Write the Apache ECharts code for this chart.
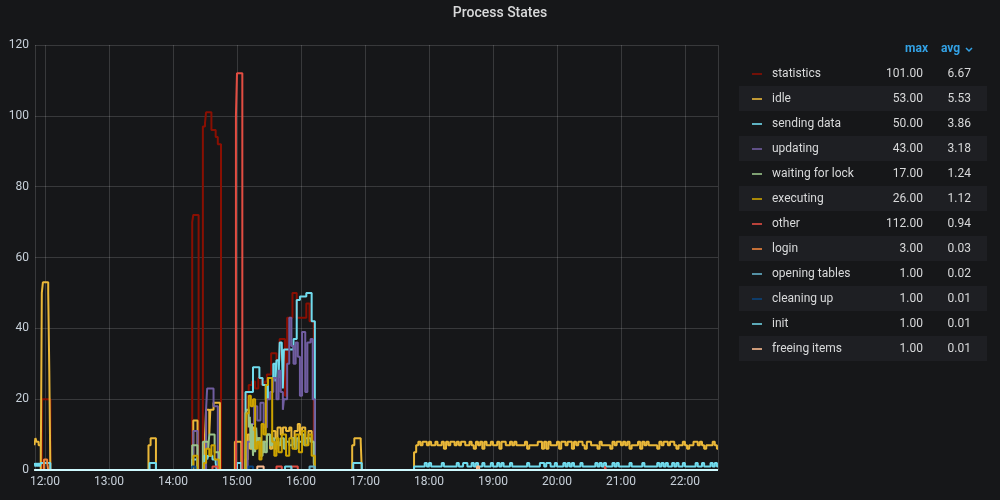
<!DOCTYPE html>
<html>
<head>
<meta charset="utf-8">
<script src="https://cdn.jsdelivr.net/npm/echarts@6/dist/echarts.min.js"></script>
<style>
  html, body { margin: 0; padding: 0; background: #161719; }
  #chart { width: 1000px; height: 500px; }
</style>
</head>
<body>
<div id="chart"></div>
<script>
// ---- Data (minutes from 12:00, value) : change points of step lines ----
const seriesNames = ['statistics','idle','sending data','updating','waiting for lock','executing','other','login','opening tables','cleaning up','init','freeing items'];
const seriesColors = ['#890F02','#EAB839','#70DBED','#705DA0','#9AC48A','#CCA300','#E24D42','#EF843C','#64B0C8','#0A437C','#6ED0E0','#F9BA8F'];
const legendMax = ['101.00','53.00','50.00','43.00','17.00','26.00','112.00','3.00','1.00','1.00','1.00','1.00'];
const legendAvg = ['6.67','5.53','3.86','3.18','1.24','1.12','0.94','0.03','0.02','0.01','0.01','0.01'];
const yTicks = [0, 20, 40, 60, 80, 100, 120];

const statisticsPts = [[-10,0],[-3,20],[5,0],[138,70],[139,72],[144,0],[148,97],[150,98],[151,101],[156,96],[160,94],[162,92],[165,0],
  [189,22],[191,24],[194,25],[197,23],[200,26],[203,24],[206,25],[208,27],[212,33],[217,31],[220,37],[225,21],[227,43],[232,50],[236,43],[245,47],[248,42],[252,0],[631,0]];

const idlePts = [[-10,7],[-9,9],[-8,8],[-6,7],[-4,0],[-3,50],[-2,53],[3,50],[4,28],[5,0],[97,7],[99,9],[104,0],
  [139,14],[143,0],[150,10],[151,17],[154,10],[155,17],[158,19],[164,0],[178,8],[184,0],
  [188,3],[190,10],[192,6],[194,12],[196,7],[199,9],[202,5],[205,8],[208,10],[211,6],[213,11],[216,9],[218,12],[221,10],[223,12],
  [226,11],[229,12],[231,9],[234,11],[237,13],[239,10],[241,12],[244,9],[247,11],[250,8],[253,0],[288,7],[290,9],[296,8],[297,0]];
// idle from 17:46 every 2 minutes
const idleTail = [
  5,7,8,7,8,8,7,8,7,7,
  8,7,7,8,6,8,7,8,8,7,
  8,7,8,8,7,7,8,7,6,8,
  7,8,6,8,7,7,8,7,7,8,
  6,8,8,7,7,8,7,8,7,7,
  7,7,8,6,7,7,7,7,8,8,
  6,8,6,8,7,7,7,8,6,8,
  8,7,8,8,6,8,7,8,8,7,
  6,8,8,7,7,7,6,8,7,7,
  7,7,6,8,7,8,8,7,8,7,
  8,6,7,7,7,8,6,8,7,8,
  7,7,7,7,6,8,7,8,8,7,
  8,8,7,6,7,7,8,7,6,7,
  7,8,8,7,8,7,6,7,7,7,
  8,7,6];

const sendingPts = [[-10,2],[-9,1],[-8,2],[-7,1],[-6,2],[-5,1],[-4,2],[5,0],[98,2],[104,0],[138,3],[143,0],
  [149,4],[152,3],[153,4],[157,3],[160,2],[161,0],[180,2],[184,0],
  [188,22],[195,29],[201,26],[204,24],[207,20],[209,26],[214,30],[216,25],[217,31],[219,26],[220,36],[222,35],[223,23],[224,34],
  [233,37],[236,48],[239,49],[245,50],[250,42],[253,0],[289,2],[297,0]];
// sending data from 17:46 every 2 minutes
const sendingTail = [
  1,1,1,1,1,2,1,2,1,1,
  1,1,1,2,1,1,1,1,1,1,
  2,1,1,2,2,1,1,2,1,2,
  1,1,2,1,1,1,2,1,1,2,
  1,2,1,1,1,2,1,1,1,1,
  1,1,1,2,1,1,1,1,1,2,
  2,1,2,2,1,1,2,1,1,1,
  2,1,2,1,2,1,1,1,2,1,
  1,1,1,1,1,2,1,2,1,2,
  1,1,1,2,1,2,1,1,1,1,
  1,2,1,1,1,1,1,2,1,1,
  1,1,1,1,2,1,2,1,2,1,
  1,2,1,2,1,1,2,1,1,1,
  1,1,2,1,1,2,1,1,1,2,
  1,2,1];

const updatingPts = [[-10,0],[139,11],[143,0],[151,17],[152,23],[158,18],[162,0],
  [190,8],[193,13],[196,18],[199,14],[202,19],[205,12],[208,20],[211,22],[214,26],[217,20],[219,28],[221,22],[223,17],[224,20],
  [227,30],[229,43],[231,35],[233,30],[235,36],[237,32],[239,21],[241,39],[244,22],[246,36],[249,37],[251,20],[253,0],[631,0]];

const waitingPts = [[-10,0],[138,7],[143,0],[148,8],[153,6],[154,10],[159,5],[163,0],
  [188,16],[189,17],[191,12],[192,15],[193,6],[194,13],[195,4],[196,11],[197,5],[198,12],[199,6],[200,9],[202,4],[204,8],[206,5],
  [208,10],[211,7],[213,9],[215,6],[217,8],[219,7],[221,9],[224,6],[226,8],[229,7],[232,9],[234,6],[236,9],[238,8],[241,10],
  [243,7],[246,9],[249,8],[252,2],[253,0],[631,0]];

const executingPts = [[-10,0],[139,4],[143,0],[149,2],[151,6],[154,4],[156,7],[159,3],[163,0],
  [188,5],[189,16],[191,21],[193,18],[195,20],[197,6],[199,8],[201,3],[203,13],[205,10],[207,24],[209,26],[213,8],[215,4],
  [217,9],[219,5],[222,10],[226,4],[229,9],[232,6],[235,10],[238,5],[241,11],[244,7],[247,10],[250,4],[253,0],[631,0]];

const otherPts = [[-10,0],[157,1],[162,0],[179,100],[180,112],[185,0],[217,1],[222,0],[231,1],[237,0],[525,1],[526,0],[631,0]];
const loginPts = [[-10,0],[-1,3],[2,2],[3,0],[631,0]];
const openingPts = [[-10,0],[248,1],[253,0],[631,0]];
const cleaningPts = [[-10,0],[138,1],[141,0],[191,1],[195,0],[631,0]];
const initPts = [[-10,0],[225,1],[231,0],[631,0]];
const freeingPts = [[-10,0],[199,1],[205,0],[405,1],[407,0],[631,0]];
const zeroStatesPts = [[-10,0],[631,0]];

const tailStart = 346, tailStep = 2, endMin = 631;

// ---- Build ----
const base = new Date(2024, 0, 1, 12, 0, 0).getTime();
const t = m => base + m * 60000;
const withTail = (pts, tail) => {
  const out = pts.slice();
  tail.forEach((v, i) => out.push([tailStart + i * tailStep, v]));
  out.push([endMin, tail[tail.length - 1]]);
  return out;
};
const allPts = [
  statisticsPts,
  withTail(idlePts, idleTail),
  withTail(sendingPts, sendingTail),
  updatingPts, waitingPts, executingPts, otherPts, loginPts, openingPts, cleaningPts, initPts, freeingPts
];

const font = 'Roboto, "Noto Sans", sans-serif';
const series = allPts.map((pts, i) => ({
  name: seriesNames[i],
  type: 'line',
  step: 'end',
  showSymbol: false,
  symbol: 'none',
  color: seriesColors[i],
  lineStyle: { width: 2, color: seriesColors[i] },
  data: pts.map(p => [t(p[0]), p[1]]),
  animation: false
}));
series.push({
  name: 'zero states',
  type: 'line', step: 'end', showSymbol: false, symbol: 'none',
  color: '#CFFAFF',
  lineStyle: { width: 2, color: '#CFFAFF' },
  data: zeroStatesPts.map(p => [t(p[0]), p[1]]),
  animation: false
});

const stripes = [];
for (let i = 1; i < seriesNames.length; i += 2) {
  stripes.push({ type: 'rect', shape: { x: 739, y: 61 + 25 * i, width: 248, height: 25 }, style: { fill: '#1e1f23' }, z: -10, silent: true });
}

const chart = echarts.init(document.getElementById('chart'), null, { renderer: 'canvas' });
chart.setOption({
  backgroundColor: '#161719',
  animation: false,
  title: {
    text: 'Process States', left: 'center', top: 6, padding: 0,
    textStyle: { color: '#d8d9da', fontSize: 14, fontWeight: 500, fontFamily: font }
  },
  grid: { left: 35, right: 282, top: 45, bottom: 30, containLabel: false },
  xAxis: {
    type: 'time', min: t(-9.4), max: t(endMin),
    minInterval: 3600000, maxInterval: 3600000,
    axisLine: { show: false }, axisTick: { show: false },
    splitLine: { show: true, lineStyle: { color: 'rgba(255,255,255,0.15)', width: 1 } },
    axisLabel: { formatter: '{HH}:{mm}', color: '#c7d0d9', fontSize: 12, fontFamily: font, margin: 6 }
  },
  yAxis: {
    type: 'value', min: yTicks[0], max: yTicks[yTicks.length - 1], interval: yTicks[1] - yTicks[0],
    axisLine: { show: false }, axisTick: { show: false },
    splitLine: { show: true, lineStyle: { color: 'rgba(255,255,255,0.15)', width: 1 } },
    axisLabel: { color: '#c7d0d9', fontSize: 12, fontFamily: font, margin: 6 }
  },
  legend: {
    orient: 'vertical', left: 752, top: 68, padding: 0,
    itemWidth: 10, itemHeight: 2, itemGap: 13, itemTextGap: 10,
    icon: 'rect', selectedMode: false,
    itemStyle: { opacity: 0.8 },
    data: seriesNames,
    formatter: name => {
      const i = seriesNames.indexOf(name);
      return '{n|' + name + '}{m|' + legendMax[i] + '}{a|' + legendAvg[i] + '}';
    },
    textStyle: {
      color: '#d8d9da', fontSize: 12, fontFamily: font,
      rich: {
        n: { width: 95, padding: [0, 0, 0, 5], fontSize: 12, fontFamily: font, color: '#d8d9da' },
        m: { width: 56, align: 'right', fontSize: 12, fontFamily: font, color: '#d8d9da' },
        a: { width: 48, align: 'right', fontSize: 12, fontFamily: font, color: '#d8d9da' }
      }
    }
  },
  graphic: stripes.concat([
    { type: 'text', style: { text: 'max', x: 928, y: 49, align: 'right', verticalAlign: 'middle', fill: '#33A2E5', font: 'bold 12px ' + font }, silent: true },
    { type: 'text', style: { text: 'avg', x: 941, y: 49, align: 'left', verticalAlign: 'middle', fill: '#33A2E5', font: 'bold 12px ' + font }, silent: true },
    { type: 'polyline', shape: { points: [[966, 48], [969, 51], [972, 48]] }, style: { stroke: '#33A2E5', lineWidth: 1.5, fill: null }, silent: true }
  ]),
  series: series
});
</script>
</body>
</html>
